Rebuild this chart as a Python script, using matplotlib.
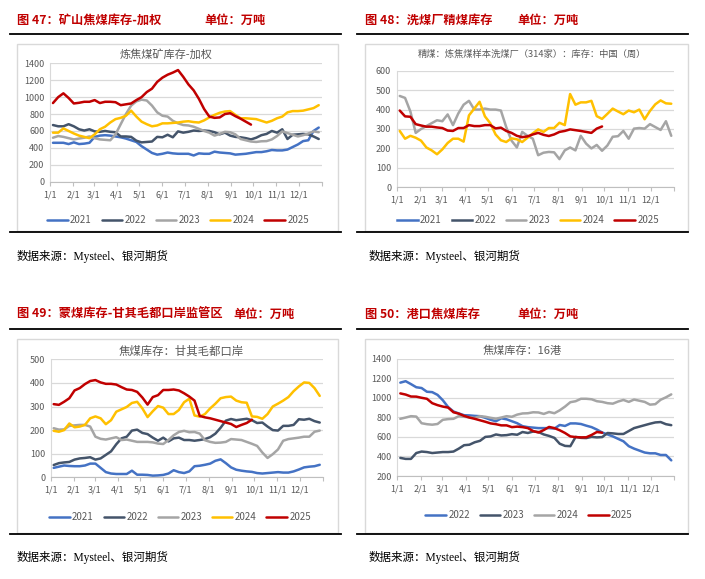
import matplotlib
matplotlib.use("Agg")
import matplotlib.pyplot as plt
from matplotlib.lines import Line2D
from matplotlib.patches import Rectangle
import numpy as np

plt.rcParams['font.family'] = ['Noto Sans CJK SC', 'DejaVu Sans']

W, H = 705, 579

# ---------------- data (weekly, week index 0..51) ----------------
month_labels = ["1/1", "2/1", "3/1", "4/1", "5/1", "6/1", "7/1", "8/1",
                "9/1", "10/1", "11/1", "12/1"]
month_start_days = [0, 31, 59, 90, 120, 151, 181, 212, 243, 273, 304, 334]

# Panel 47: 矿山焦煤库存-加权
p47_2021 = [460, 460, 460, 445, 465, 445, 450, 460, 530, 545, 550, 545, 535, 525, 510, 490,
            470, 420, 380, 340, 320, 330, 345, 335, 330, 330, 330, 310, 335, 330, 330, 355,
            345, 340, 335, 320, 325, 330, 340, 350, 350, 360, 375, 370, 370, 380, 410, 440,
            480, 490, 600, 640]
p47_2022 = [670, 655, 655, 680, 655, 620, 605, 620, 595, 590, 600, 590, 585, 535, 535, 530,
            485, 465, 470, 475, 530, 525, 555, 525, 595, 580, 590, 605, 600, 605, 600, 585,
            560, 580, 545, 530, 525, 515, 500, 520, 550, 565, 600, 580, 620, 505, 555, 560,
            565, 560, 535, 505]
p47_2023 = [520, 540, 530, 515, 500, 510, 520, 535, 515, 500, 495, 490, 560, 680, 800, 900,
            950, 970, 960, 900, 820, 780, 770, 720, 690, 670, 665, 650, 625, 600, 580, 545,
            565, 590, 585, 560, 505, 490, 475, 470, 478, 480, 500, 540, 595, 575, 555, 535,
            550, 570, 595, 585]
p47_2024 = [580, 580, 630, 600, 570, 545, 530, 515, 560, 620, 650, 700, 740, 755, 780, 840,
            770, 710, 680, 655, 665, 690, 690, 695, 700, 710, 715, 705, 700, 725, 760, 790,
            815, 830, 835, 790, 750, 750, 745, 740, 720, 700, 720, 750, 770, 820, 835, 835,
            840, 855, 870, 905]
p47_2025 = [930, 1000, 1045, 990, 925, 933, 945, 945, 965, 930, 945, 945, 940, 905, 915, 925,
            965, 1000, 1060, 1100, 1180, 1230, 1265, 1290, 1320, 1240, 1150, 1080, 980, 860,
            770, 755, 760, 800, 810, 775, 745, 710, 675]

# Panel 48: 洗煤厂精煤库存
p48_2023 = [470, 460, 390, 280, 300, 315, 330, 345, 340, 375, 320, 380, 425, 445, 400, 400,
            405, 400, 400, 395, 310, 240, 205, 285, 265, 250, 165, 178, 182, 180, 145, 190,
            205, 190, 265, 225, 200, 218, 188, 215, 260, 263, 290, 250, 302, 305, 302, 325,
            310, 295, 340, 265]
p48_2024 = [290, 250, 265, 255, 240, 205, 190, 170, 195, 228, 250, 250, 235, 370, 405, 440,
            365, 330, 272, 242, 233, 252, 247, 233, 255, 278, 298, 285, 305, 305, 332, 320,
            480, 425, 437, 437, 445, 366, 352, 378, 405, 390, 376, 395, 386, 400, 350, 393,
            427, 447, 432, 430]
p48_2025 = [395, 365, 363, 325, 318, 312, 312, 308, 305, 292, 290, 305, 305, 320, 315, 315,
            320, 320, 303, 307, 290, 280, 265, 258, 262, 272, 280, 270, 264, 272, 285, 290,
            298, 294, 290, 285, 280, 302, 313]

# Panel 49: 蒙煤库存-甘其毛都口岸监管区
p49_2021 = [40, 45, 50, 48, 47, 47, 50, 58, 58, 40, 22, 16, 14, 14, 14, 28, 11, 11, 10, 7,
            8, 10, 16, 30, 22, 18, 25, 47, 49, 53, 58, 70, 76, 60, 42, 32, 28, 25, 23, 18,
            16, 18, 20, 22, 20, 20, 25, 33, 42, 45, 47, 53]
p49_2022 = [52, 60, 63, 65, 75, 80, 82, 85, 75, 80, 95, 110, 140, 165, 172, 198, 202, 188,
            183, 168, 155, 168, 152, 165, 168, 158, 158, 155, 158, 162, 170, 185, 210, 240,
            247, 242, 245, 248, 242, 230, 232, 215, 200, 198, 218, 218, 222, 246, 244, 248,
            238, 232]
p49_2023 = [208, 202, 203, 218, 220, 222, 222, 215, 172, 163, 160, 165, 170, 158, 160, 155,
            150, 150, 150, 148, 143, 141, 158, 178, 192, 197, 191, 192, 185, 157, 150, 146,
            147, 150, 162, 160, 158, 150, 142, 133, 105, 82, 98, 118, 155, 162, 165, 168,
            172, 172, 193, 198]
p49_2024 = [197, 193, 200, 228, 212, 215, 222, 250, 258, 250, 225, 242, 278, 288, 298, 315,
            320, 292, 255, 280, 302, 295, 268, 268, 285, 318, 333, 262, 257, 268, 292, 312,
            335, 340, 342, 325, 318, 316, 258, 256, 248, 268, 300, 312, 325, 340, 365, 385,
            402, 400, 378, 345]
p49_2025 = [310, 307, 320, 335, 368, 378, 395, 408, 412, 402, 396, 396, 393, 382, 372, 370,
            362, 338, 308, 340, 348, 370, 370, 372, 368, 356, 342, 325, 260, 254, 250, 244,
            238, 232, 226, 213, 222, 230, 244]

# Panel 50: 港口焦煤库存
p50_2022 = [1155, 1170, 1140, 1108, 1100, 1062, 1058, 1030, 975, 905, 860, 840, 822, 820,
            815, 812, 795, 775, 760, 790, 780, 760, 740, 710, 700, 695, 690, 690, 690, 685,
            722, 712, 738, 738, 732, 715, 700, 675, 645, 625, 605, 580, 555, 505, 480, 460,
            440, 432, 432, 415, 415, 360]
p50_2023 = [385, 375, 375, 435, 450, 445, 435, 440, 445, 445, 450, 480, 515, 520, 545, 560,
            600, 605, 625, 615, 618, 628, 622, 650, 640, 655, 650, 625, 610, 590, 530, 508,
            505, 600, 590, 588, 600, 595, 598, 640, 636, 630, 630, 660, 690, 705, 720, 735,
            748, 752, 730, 720]
p50_2024 = [785, 798, 812, 808, 740, 730, 725, 732, 775, 782, 785, 812, 806, 800, 795, 812,
            806, 795, 786, 798, 812, 806, 828, 840, 842, 852, 850, 835, 855, 842, 872, 910,
            955, 965, 990, 990, 985, 965, 958, 945, 940, 962, 978, 958, 982, 970, 958, 930,
            935, 980, 1005, 1035]
p50_2025 = [1045, 1033, 1013, 1012, 1000, 990, 945, 925, 910, 900, 852, 838, 815, 798, 785,
            770, 755, 738, 730, 718, 718, 700, 705, 700, 690, 660, 645, 670, 702, 690, 668,
            640, 605, 598, 595, 596, 620, 650, 643]

C_BLUE = "#4472C4"
C_DARK = "#44546A"
C_GRAY = "#A5A5A5"
C_YEL = "#FFC000"
C_RED = "#C00000"
TXT = "#595959"
RED_T = "#C00000"

fig = plt.figure(figsize=(W / 100, H / 100), dpi=100)
fig.patch.set_facecolor("white")


def fx(px):
    return px / W


def fy(py):
    return 1 - py / H


def add_ax(x0, y0, x1, y1):
    return fig.add_axes([fx(x0), fy(y1), (x1 - x0) / W, (y1 - y0) / H])


def week_days(n):
    return [7 * i + 4 for i in range(n)]


def frame_box(x0, y0, x1, y1):
    fig.patches.append(Rectangle((fx(x0), fy(y1)), (x1 - x0) / W, (y1 - y0) / H,
                                 transform=fig.transFigure, fill=False,
                                 edgecolor="#D9D9D9", lw=1.0))


def hline(x0, x1, y):
    fig.add_artist(Line2D([fx(x0), fx(x1)], [fy(y), fy(y)], transform=fig.transFigure,
                          color="black", lw=1.3))


def style_ax(ax, ylo, yhi, ystep):
    ax.set_xlim(0, 365)
    ax.set_ylim(ylo, yhi)
    ax.set_yticks(np.arange(ylo, yhi + 1, ystep))
    ax.yaxis.grid(True, color="#D9D9D9", lw=0.9)
    ax.set_axisbelow(True)
    ax.set_xticks(month_start_days + [365])
    ax.set_xticklabels(month_labels + [""])
    for s in ["top", "right"]:
        ax.spines[s].set_visible(False)
    ax.spines["left"].set_color("#D9D9D9")
    ax.spines["bottom"].set_color("#BFBFBF")
    ax.tick_params(axis="y", length=0, labelsize=6.5, labelcolor=TXT, pad=4)
    ax.tick_params(axis="x", length=3, color="#BFBFBF", labelsize=6.5, labelcolor=TXT,
                   pad=3, direction="out")
    ax.set_facecolor("none")


def panel(series, colors, labels, rect, ylim, title, title_xy, title_size, legend_xy):
    ax = add_ax(*rect)
    style_ax(ax, *ylim)
    handles = []
    for vals, c, lab in zip(series, colors, labels):
        if vals is None:
            h, = ax.plot([], [], color=c, lw=1.8, label=lab)
        else:
            h, = ax.plot(week_days(len(vals)), vals, color=c, lw=1.8, label=lab,
                         solid_joinstyle="round", solid_capstyle="round")
        handles.append(h)
    fig.text(fx(title_xy[0]), fy(title_xy[1]), title, ha="center", va="center",
             fontsize=title_size, color=TXT)
    ax.legend(handles=handles, loc="center", bbox_to_anchor=(fx(legend_xy[0]), fy(legend_xy[1])),
              bbox_transform=fig.transFigure, ncol=len(handles), frameon=False,
              fontsize=7, handlelength=2.1, handletextpad=0.25, columnspacing=1.0,
              labelcolor=TXT)
    return ax


# chart boxes
frame_box(17, 44, 338, 231)
frame_box(365, 44, 688, 231)
frame_box(17, 339, 338, 533)
frame_box(365, 339, 688, 533)

# panel 47
panel([p47_2021, p47_2022, p47_2023, p47_2024, p47_2025],
      [C_BLUE, C_DARK, C_GRAY, C_YEL, C_RED],
      ["2021", "2022", "2023", "2024", "2025"],
      (50, 63.3, 321.7, 181.7), (0, 1400, 200),
      "炼焦煤矿库存-加权", (166, 54), 8.0, (178, 220))

# panel 48
panel([None, None, p48_2023, p48_2024, p48_2025],
      [C_BLUE, C_DARK, C_GRAY, C_YEL, C_RED],
      ["2021", "2022", "2023", "2024", "2025"],
      (396.7, 70.7, 674.3, 187.3), (0, 600, 100),
      "精煤：炼焦煤样本洗煤厂（314家）：库存：中国（周）", (532, 54), 6.7, (528, 220))

# panel 49
panel([p49_2021, p49_2022, p49_2023, p49_2024, p49_2025],
      [C_BLUE, C_DARK, C_GRAY, C_YEL, C_RED],
      ["2021", "2022", "2023", "2024", "2025"],
      (50.7, 359.3, 322.7, 477.3), (0, 500, 100),
      "焦煤库存：甘其毛都口岸", (181, 351), 8.2, (180, 517))

# panel 50
panel([p50_2022, p50_2023, p50_2024, p50_2025],
      [C_BLUE, C_DARK, C_GRAY, C_RED],
      ["2022", "2023", "2024", "2025"],
      (397.3, 358.7, 674.3, 476), (200, 1400, 200),
      "焦煤库存：16港", (522, 351), 8.0, (529, 515))

# headers
def header(x, y, text, x2, y2):
    fig.text(fx(x), fy(y), text, ha="left", va="center", fontsize=8.8,
             fontweight="bold", color=RED_T)
    fig.text(fx(x2), fy(y2), "单位：万吨", ha="left", va="center", fontsize=8.8,
             fontweight="bold", color=RED_T)


header(17, 20, "图 47：矿山焦煤库存-加权", 204, 20)
header(365, 20, "图 48：洗煤厂精煤库存", 517, 20)
header(17, 314, "图 49：蒙煤库存-甘其毛都口岸监管区", 233, 314)
header(365, 314, "图 50：港口焦煤库存", 517, 314)

# separator lines
hline(10, 341, 34)
hline(357, 688, 34)
hline(10, 341, 232)
hline(357, 688, 232)
hline(10, 341, 329)
hline(357, 688, 329)
hline(10, 341, 534)
hline(357, 688, 534)

# sources
src = "数据来源：Mysteel、银河期货"
for (x, y) in [(17, 256), (369, 256), (17, 557), (369, 557)]:
    fig.text(fx(x), fy(y), src, ha="left", va="center", fontsize=8.3,
             family=["Liberation Serif", "Noto Sans CJK SC"], color="black")

fig.savefig("out.png", dpi=100)
